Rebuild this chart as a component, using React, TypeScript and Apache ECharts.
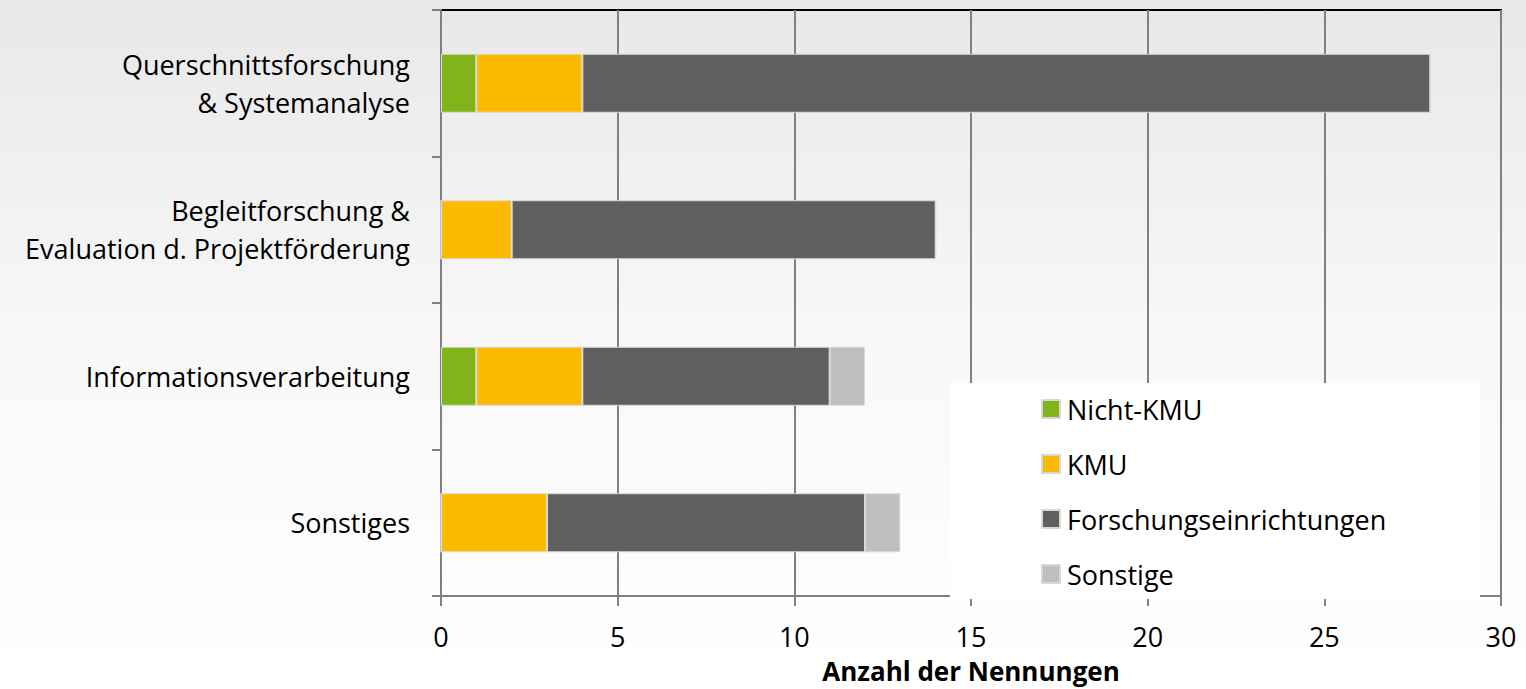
import React, { useEffect, useRef } from "react";
import * as echarts from "echarts";

const categories = [
  "Querschnittsforschung\n& Systemanalyse",
  "Begleitforschung &\nEvaluation d. Projektförderung",
  "Informationsverarbeitung",
  "Sonstiges",
];
const seriesNames = ["Nicht-KMU", "KMU", "Forschungseinrichtungen", "Sonstige"];
const nichtKmu = [1, 0, 1, 0];
const kmu = [3, 2, 3, 3];
const forschung = [24, 12, 7, 9];
const sonstige = [0, 0, 1, 1];
const colors = ["#80B418", "#FBB900", "#5F5F5F", "#BFBFBF"];
const xTicks = [0, 5, 10, 15, 20, 25, 30];
const axisTitle = "Anzahl der Nennungen";

const FONT = "'Open Sans', sans-serif";

export default function App() {
  const ref = useRef<HTMLDivElement>(null);
  useEffect(() => {
    if (!ref.current) return;
    const chart = echarts.init(ref.current, undefined, { renderer: "svg" });
    const values = [nichtKmu, kmu, forschung, sonstige];
    chart.setOption({
      animation: false,
      backgroundColor: {
        type: "linear",
        x: 0, y: 0, x2: 0, y2: 1,
        colorStops: [
          { offset: 0, color: "#e8e8e8" },
          { offset: 0.5, color: "#f8f8f8" },
          { offset: 1, color: "#ffffff" },
        ],
      },
      textStyle: { fontFamily: FONT },
      grid: {
        left: 441,
        right: 25,
        top: 10,
        bottom: 89,
        show: true,
        borderColor: "#000",
        borderWidth: 2,
        backgroundColor: "transparent",
      },
      graphic: [
        {
          type: "rect",
          z: 3,
          shape: { x: 950, y: 383, width: 530, height: 216 },
          style: { fill: "#ffffff" },
        },
      ],
      legend: {
        z: 10,
        orient: "vertical",
        left: 1041,
        top: 394,
        padding: 0,
        itemWidth: 18,
        itemHeight: 18,
        itemGap: 25,
        icon: "rect",
        data: seriesNames,
        textStyle: {
          fontFamily: FONT,
          fontSize: 27,
          lineHeight: 30,
          color: "#000",
          padding: [0, 0, 0, 2],
        },
      },
      xAxis: {
        type: "value",
        min: 0,
        max: 30,
        interval: 5,
        name: axisTitle,
        nameLocation: "middle",
        nameGap: 62,
        nameTextStyle: { fontFamily: FONT, fontSize: 26, fontWeight: "bold", color: "#000" },
        axisLine: { show: true, lineStyle: { color: "#808080", width: 2 } },
        axisTick: { show: true, length: 10, lineStyle: { color: "#808080", width: 2 } },
        axisLabel: {
          fontFamily: FONT,
          fontSize: 27,
          color: "#000",
          margin: 27,
          formatter: (v: number) => (xTicks.includes(v) ? String(v) : ""),
        },
        splitLine: { show: true, lineStyle: { color: "#808080", width: 2 } },
      },
      yAxis: {
        type: "category",
        inverse: true,
        data: categories,
        axisLine: { show: true, lineStyle: { color: "#808080", width: 2 } },
        axisTick: { show: true, length: 9, lineStyle: { color: "#808080", width: 2 } },
        axisLabel: {
          fontFamily: FONT,
          fontSize: 27,
          color: "#000",
          margin: 31,
          lineHeight: 38,
          align: "right",
        },
      },
      series: seriesNames.map((name, i) => ({
        name,
        type: "bar",
        stack: "total",
        barWidth: 59,
        data: values[i],
        itemStyle: { color: colors[i], borderColor: "#d8d8d8", borderWidth: 1 },
      })),
    });
    return () => chart.dispose();
  }, []);
  return (
    <div
      ref={ref}
      style={{ position: "fixed", left: 0, top: 0, width: 1526, height: 689 }}
    />
  );
}
